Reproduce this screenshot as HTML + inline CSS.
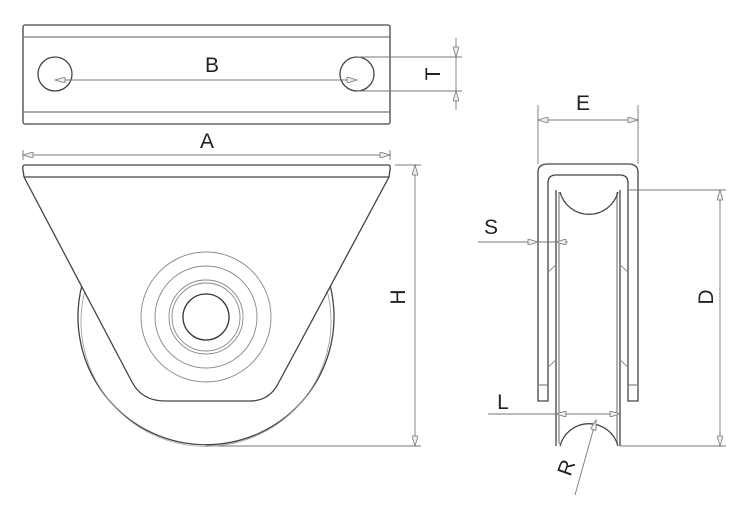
<!DOCTYPE html>
<html><head><style>
html,body{margin:0;padding:0;background:#fff;}
svg{display:block;}
text{font-family:"Liberation Sans",sans-serif;font-size:21px;fill:#222;}
</style></head><body>
<svg width="754" height="514" viewBox="0 0 754 514">
<defs>
<marker id="ar" viewBox="0 0 10 6" refX="10" refY="3" markerWidth="14" markerHeight="6" orient="auto-start-reverse" markerUnits="userSpaceOnUse">
<path d="M0,0 L10,3 L0,6 Z" fill="#eee" stroke="#777" stroke-width="0.8"/></marker>
</defs>
<g fill="none" stroke="#444" stroke-width="1.3">
<!-- top view -->
<rect x="23" y="25" width="367" height="99" rx="2"/>
<line x1="23" y1="37" x2="390" y2="37" stroke="#777"/>
<line x1="23" y1="112" x2="390" y2="112" stroke="#777"/>
<circle cx="55" cy="74" r="17"/>
<circle cx="357" cy="74" r="17"/>
</g>
<g stroke="#777" stroke-width="0.9" fill="none">
<line x1="55" y1="80" x2="357" y2="80" marker-start="url(#ar)" marker-end="url(#ar)"/>
<line x1="357" y1="57" x2="462" y2="57"/>
<line x1="357" y1="91" x2="462" y2="91"/>
<line x1="456" y1="38" x2="456" y2="57" marker-end="url(#ar)"/>
<line x1="456" y1="110" x2="456" y2="91" marker-end="url(#ar)"/>
<line x1="456" y1="57" x2="456" y2="91"/>
<!-- A -->
<line x1="23" y1="150" x2="23" y2="160"/>
<line x1="390" y1="150" x2="390" y2="160"/>
<line x1="23" y1="155" x2="390" y2="155" marker-start="url(#ar)" marker-end="url(#ar)"/>
<!-- H -->
<line x1="395" y1="165" x2="421" y2="165"/>
<line x1="206" y1="446" x2="421" y2="446"/>
<line x1="415" y1="165" x2="415" y2="446" marker-start="url(#ar)" marker-end="url(#ar)"/>
</g>
<text x="212" y="72" text-anchor="middle">B</text>
<text x="207" y="148" text-anchor="middle">A</text>
<text transform="translate(440,74) rotate(-90)" text-anchor="middle">T</text>
<text transform="translate(405,297) rotate(-90)" text-anchor="middle">H</text>
<!-- front view -->
<g fill="none" stroke="#444" stroke-width="1.3">
<path d="M82,285 A128,128 0 1 0 330,285"/>
<path d="M85,290 A125,125 0 1 0 327,290" stroke="#999" stroke-width="0.8"/>
<path d="M24,177 L132,382 Q142,401 165,401 L250,401 Q270,401 279,382 L389,177 Z" fill="#fff" stroke="none"/>
<path d="M25,165 L388,165 Q391,165 390,170 L389,177 L24,177 L23,170 Q22,165 25,165 Z"/>
<path d="M24,177 L132,382 Q142,401 165,401 L250,401 Q270,401 279,382 L389,177"/>
</g>
<g fill="none" stroke="#888" stroke-width="0.9">
<circle cx="206" cy="317" r="65"/>
<circle cx="206" cy="317" r="51"/>
<circle cx="206" cy="317" r="37"/>
<circle cx="206" cy="317" r="34"/>
</g>
<circle cx="206" cy="317" r="23" fill="none" stroke="#333" stroke-width="1.3"/>
<!-- side view -->
<g fill="none" stroke="#444" stroke-width="1.3">
<path d="M538,401 L538,172 Q538,164 548,164 L628,164 Q638,164 638,172 L638,401 L628,401 L628,183 Q628,175 620,175 L556,175 Q548,175 548,183 L548,401 Z"/>
<line x1="538" y1="385" x2="548" y2="385" stroke="#888"/>
<line x1="628" y1="385" x2="638" y2="385" stroke="#888"/>
<line x1="556" y1="190" x2="556" y2="446"/>
<line x1="620" y1="190" x2="620" y2="446"/>
<line x1="559" y1="192" x2="559" y2="444" stroke="#888"/>
<line x1="617" y1="192" x2="617" y2="444" stroke="#888"/>
<path d="M560,192 A30,30 0 0 0 618,192"/>
<path d="M560,446 A30,30 0 0 1 618,446"/>
<path d="M556,265 L548,272 M620,265 L628,272 M556,360 L548,367 M620,360 L628,367" stroke="#888" stroke-width="0.9"/>
</g>
<g stroke="#777" stroke-width="0.9" fill="none">
<line x1="538" y1="105" x2="538" y2="164"/>
<line x1="638" y1="105" x2="638" y2="164"/>
<line x1="538" y1="120" x2="638" y2="120" marker-start="url(#ar)" marker-end="url(#ar)"/>
<line x1="627" y1="190" x2="726" y2="190"/>
<line x1="620" y1="446" x2="726" y2="446"/>
<line x1="720" y1="190" x2="720" y2="446" marker-start="url(#ar)" marker-end="url(#ar)"/>
<line x1="478" y1="242" x2="538" y2="242"/>
<line x1="520" y1="242" x2="538" y2="242" marker-end="url(#ar)"/>
<line x1="568" y1="242" x2="556" y2="242" marker-end="url(#ar)"/>
<line x1="538" y1="242" x2="556" y2="242"/>
<line x1="488" y1="414" x2="620" y2="414"/>
<line x1="588" y1="414" x2="556" y2="414" marker-end="url(#ar)"/>
<line x1="588" y1="414" x2="620" y2="414" marker-end="url(#ar)"/>
<line x1="575" y1="495" x2="596" y2="420" marker-end="url(#ar)"/>
</g>
<text x="583" y="110" text-anchor="middle">E</text>
<text x="491" y="234" text-anchor="middle">S</text>
<text x="503" y="409" text-anchor="middle">L</text>
<text transform="translate(713,297) rotate(-90)" text-anchor="middle">D</text>
<text transform="translate(573,470) rotate(-70)" text-anchor="middle">R</text>
</svg>
</body></html>
